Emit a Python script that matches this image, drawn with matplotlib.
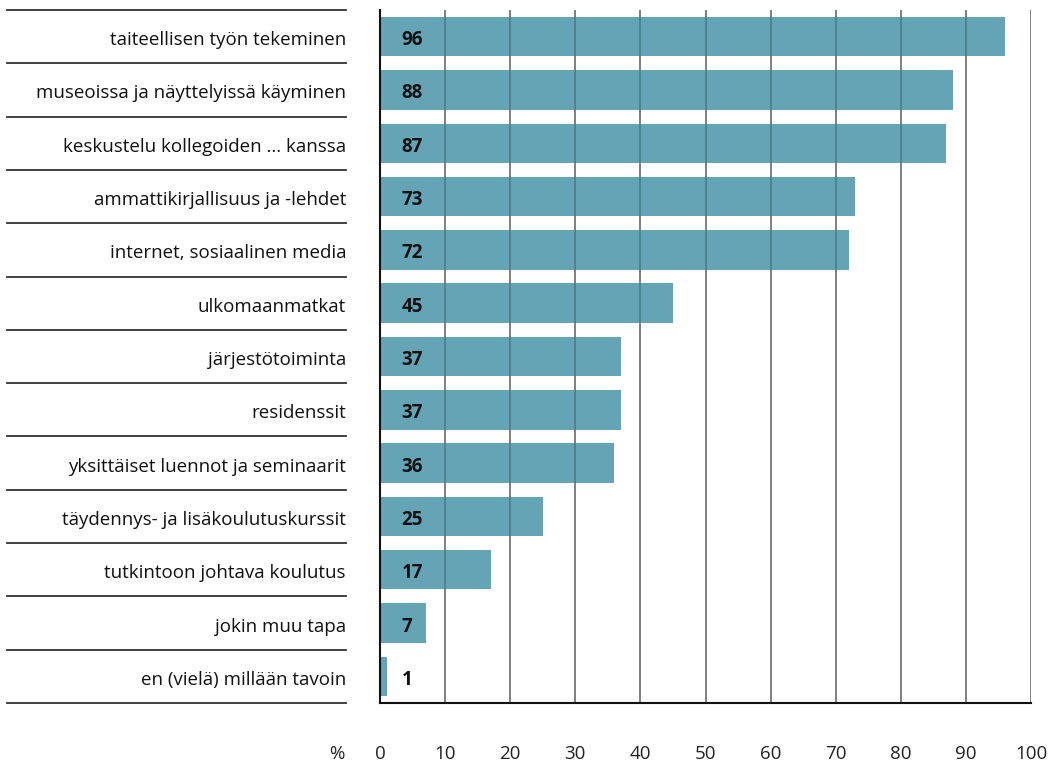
import matplotlib
matplotlib.use("Agg")
import matplotlib.pyplot as plt
import matplotlib.transforms as mtransforms

categories = [
    "taiteellisen työn tekeminen",
    "museoissa ja näyttelyissä käyminen",
    "keskustelu kollegoiden ... kanssa",
    "ammattikirjallisuus ja -lehdet",
    "internet, sosiaalinen media",
    "ulkomaanmatkat",
    "järjestötoiminta",
    "residenssit",
    "yksittäiset luennot ja seminaarit",
    "täydennys- ja lisäkoulutuskurssit",
    "tutkintoon johtava koulutus",
    "jokin muu tapa",
    "en (vielä) millään tavoin",
]
values = [96, 88, 87, 73, 72, 45, 37, 37, 36, 25, 17, 7, 1]
xticks = [0, 10, 20, 30, 40, 50, 60, 70, 80, 90, 100]

plt.rcParams['font.family'] = ['Open Sans', 'DejaVu Sans']
FS = 13.5

fig = plt.figure(figsize=(10.51, 7.62), dpi=100)
ax = fig.add_axes([380/1051, 1-703/762, 651/1051, 693/762])

n = len(categories)
ypos = list(range(n))
bar_color = "#65a4b5"
ax.barh(ypos, values, height=0.74, color=bar_color, zorder=1)

ax.set_xlim(0, 100)
ax.set_ylim(n - 0.5, -0.5)

# vertical gridlines: grey below, slight darkening above bars
for t in xticks[1:]:
    ax.axvline(t, color="#9a9a9a", linewidth=1.3, zorder=0)
    ax.axvline(t, color="black", alpha=0.22, linewidth=1.3, zorder=2)

# small downward shift of text (in points) to match reference baseline
shift = mtransforms.ScaledTranslation(0, -2.5 / 72, fig.dpi_scale_trans)

for y, v in zip(ypos, values):
    ax.text(3.3, y, str(v), ha="left", va="center", fontsize=FS,
            fontweight="bold", color="#111111", zorder=3,
            transform=ax.transData + shift)

# spines
for s in ["top", "right"]:
    ax.spines[s].set_visible(False)
for s in ["left", "bottom"]:
    ax.spines[s].set_linewidth(1.5)
    ax.spines[s].set_color("#111111")

ax.set_yticks([])
ax.set_xticks(xticks)
ax.set_xticklabels([str(t) for t in xticks], fontsize=FS, color="#222222")
PAD = 30
ax.tick_params(axis="x", length=0, pad=PAD)

# category labels and separator lines on the left
trans = mtransforms.blended_transform_factory(ax.transAxes, ax.transData)
x0 = (7 - 380) / 651
x1 = (346 - 380) / 651
for i in range(n + 1):
    ax.plot([x0, x1], [i - 0.5, i - 0.5], transform=trans, color="#333333",
            linewidth=1.3, clip_on=False)
for y, c in zip(ypos, categories):
    ax.text(x1, y, c, transform=trans + shift, ha="right", va="center",
            fontsize=FS, color="#111111")

# percent sign aligned with tick labels
ptrans = ax.transAxes + mtransforms.ScaledTranslation(0, -PAD / 72, fig.dpi_scale_trans)
ax.text((345 - 380) / 651, 0, "%", transform=ptrans, ha="right",
        va="top", fontsize=FS, color="#222222")

fig.savefig("out.png", dpi=100)
